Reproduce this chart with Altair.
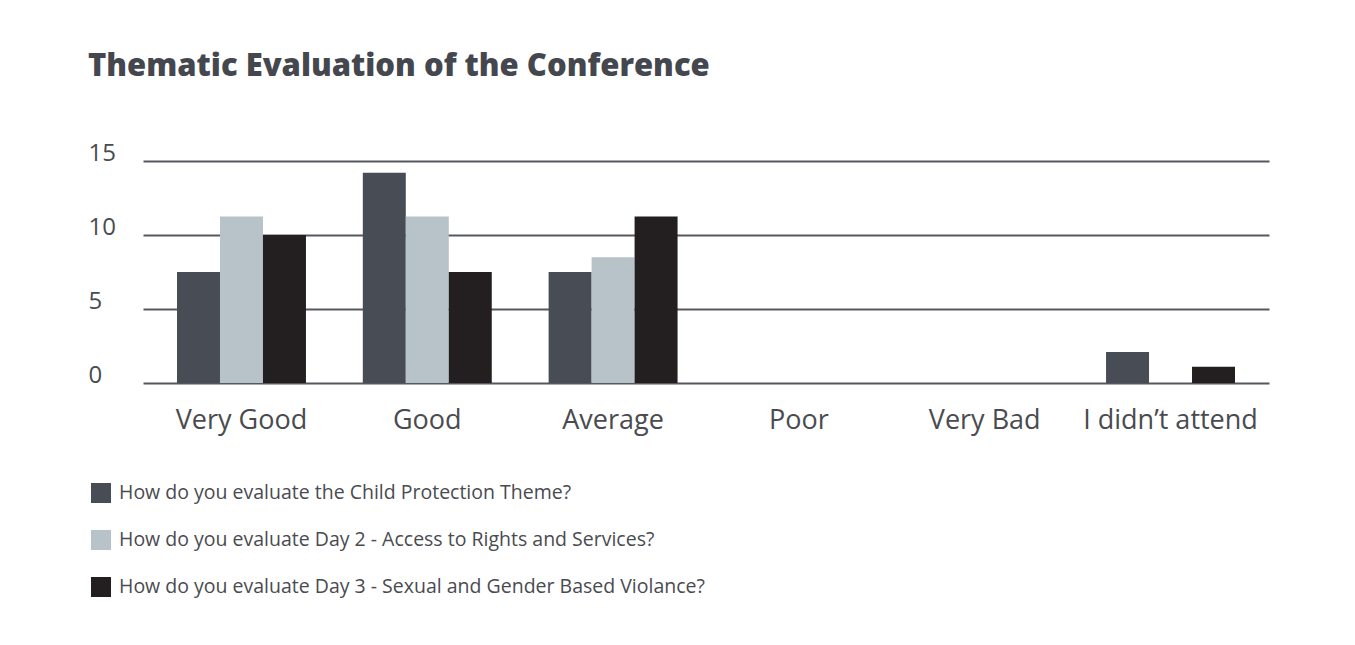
import altair as alt
import pandas as pd

categories = ["Very Good", "Good", "Average", "Poor", "Very Bad", "I didn\u2019t attend"]
series = [
    "How do you evaluate the Child Protection Theme?",
    "How do you evaluate Day 2 - Access to Rights and Services?",
    "How do you evaluate Day 3 - Sexual and Gender Based Violance?",
]
child_protection = [7.5, 14.2, 7.5, 0, 0, 2.1]
day2_rights = [11.25, 11.25, 8.5, 0, 0, 0]
day3_sgbv = [10, 7.5, 11.25, 0, 0, 1.1]
colors = ["#474c55", "#b7c2c9", "#231f20"]
y_ticks = [0, 5, 10, 15]

rows = []
for s, vals in zip(series, [child_protection, day2_rights, day3_sgbv]):
    for c, v in zip(categories, vals):
        rows.append({"category": c, "series": s, "value": v})
df = pd.DataFrame(rows)

FONT = "Open Sans"
TEXT = "#4a4b50"

chart = alt.Chart(df).mark_bar().encode(
    x=alt.X("category:N", sort=categories, title=None,
            scale=alt.Scale(paddingInner=0.306, paddingOuter=0.183),
            axis=alt.Axis(labelAngle=0, labelFontSize=27, labelColor=TEXT,
                          labelFont=FONT, labelPadding=24, ticks=False,
                          domain=False, grid=False)),
    xOffset=alt.XOffset("series:N", sort=series, scale=alt.Scale(paddingInner=0, paddingOuter=0)),
    y=alt.Y("value:Q", title=None,
            scale=alt.Scale(domain=[0, 15], nice=False),
            axis=alt.Axis(values=y_ticks, labelFontSize=24, labelColor=TEXT,
                          labelFont=FONT, labelAlign="left", labelPadding=55,
                          labelOffset=-8, ticks=False, domain=False,
                          grid=True, gridColor="#55585e", gridWidth=2)),
    color=alt.Color("series:N", sort=series,
                    scale=alt.Scale(domain=series, range=colors),
                    legend=alt.Legend(title=None, orient="none", legendX=-52, legendY=322,
                                      direction="vertical", symbolType="square",
                                      symbolSize=400, symbolStrokeWidth=0,
                                      rowPadding=27, labelOffset=8,
                                      labelFontSize=19.5, labelFont=FONT,
                                      labelColor=TEXT, labelLimit=800)),
).properties(
    width=1126, height=222,
    background="white",
    title=alt.TitleParams("Thematic Evaluation of the Conference", anchor="start",
                          frame="group", dx=-55, offset=58, fontSize=31,
                          font=FONT, fontWeight=800, color="#45474f"),
    padding={"left": 135, "top": 153, "right": 70, "bottom": 245},
    autosize=alt.AutoSizeParams(type="none"),
).configure_view(stroke=None)

chart.save("out.html", embed_options={"renderer": "svg", "actions": False})
